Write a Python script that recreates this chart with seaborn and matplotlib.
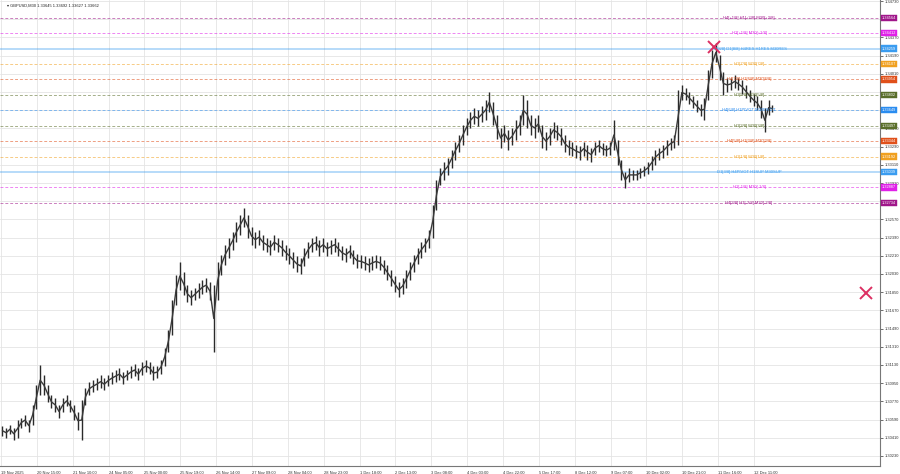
import numpy as np
import matplotlib
matplotlib.use("Agg")
import matplotlib.pyplot as plt
import seaborn as sns

sns.set_theme(style="white")
plt.rcParams['font.family'] = ['Liberation Sans', 'DejaVu Sans']

# --- data -----------------------------------------------------------------
header = "\u25be GBPUSD,M30 1.33645 1.33692 1.33627 1.33662"

# one value per 4 x M30 bars, pips above 1.30000
hi_pips = [53, 51, 54, 51, 59, 61, 64, 59, 73, 93,
           113, 103, 93, 83, 80, 73, 80, 83, 78, 73,
           67, 78, 90, 96, 98, 100, 103, 100, 103, 106,
           108, 110, 106, 108, 112, 114, 110, 116, 118, 116,
           112, 112, 118, 130, 148, 177, 202, 215, 205, 192,
           187, 189, 194, 197, 199, 195, 192, 215, 222, 232,
           239, 245, 254, 261, 268, 261, 249, 245, 247, 242,
           239, 237, 242, 239, 237, 232, 229, 225, 221, 219,
           229, 235, 239, 241, 237, 239, 235, 237, 239, 235,
           231, 229, 232, 227, 223, 222, 221, 219, 221, 222,
           221, 217, 212, 207, 201, 195, 199, 207, 215, 222,
           229, 235, 239, 247, 271, 296, 308, 314, 318, 326,
           334, 340, 350, 357, 363, 367, 365, 369, 375, 383,
           373, 360, 347, 350, 345, 347, 355, 360, 380, 375,
           360, 357, 360, 350, 343, 347, 353, 350, 347, 340,
           336, 334, 331, 330, 334, 331, 328, 334, 336, 333,
           331, 334, 355, 336, 316, 304, 308, 306, 306, 308,
           310, 314, 320, 326, 328, 331, 336, 338, 340, 385,
           390, 387, 383, 379, 375, 371, 377, 405, 425, 431,
           420, 403, 397, 397, 400, 397, 395, 390, 385, 381,
           379, 375, 367, 375, 370]
lo_pips = [43, 41, 45, 39, 41, 51, 53, 47, 54, 69,
           83, 83, 76, 70, 67, 61, 67, 72, 67, 59,
           49, 39, 73, 83, 86, 88, 90, 88, 92, 94,
           96, 98, 94, 98, 100, 102, 98, 103, 106, 104,
           98, 100, 104, 112, 126, 143, 172, 187, 182, 175,
           172, 177, 179, 183, 185, 177, 126, 177, 202, 212,
           219, 227, 235, 242, 249, 239, 232, 229, 232, 227,
           225, 222, 227, 225, 221, 217, 213, 209, 205, 203,
           211, 219, 225, 227, 221, 225, 221, 223, 225, 221,
           217, 215, 219, 213, 209, 209, 207, 205, 207, 209,
           207, 203, 197, 191, 185, 180, 183, 189, 197, 205,
           213, 219, 225, 229, 239, 266, 291, 296, 301, 308,
           316, 324, 331, 340, 347, 351, 349, 353, 355, 363,
           350, 337, 328, 334, 326, 331, 336, 340, 350, 347,
           340, 338, 343, 328, 326, 331, 338, 336, 331, 324,
           321, 320, 318, 316, 320, 316, 314, 321, 324, 321,
           320, 321, 326, 311, 296, 288, 294, 296, 296, 298,
           300, 302, 306, 311, 316, 318, 321, 326, 328, 331,
           375, 375, 371, 367, 363, 359, 355, 375, 397, 413,
           395, 380, 383, 385, 387, 385, 381, 377, 373, 369,
           365, 357, 343, 360, 363]
bars_per_group = 4

time_labels = ["19 Nov 2025", "20 Nov 15:00", "21 Nov 10:00", "24 Nov 05:00", "25 Nov 00:00",
               "25 Nov 19:00", "26 Nov 14:00", "27 Nov 09:00", "28 Nov 04:00", "28 Nov 23:00",
               "1 Dec 18:00", "2 Dec 13:00", "3 Dec 08:00", "4 Dec 03:00", "4 Dec 22:00",
               "5 Dec 17:00", "8 Dec 12:00", "9 Dec 07:00", "10 Dec 02:00", "10 Dec 21:00",
               "11 Dec 16:00", "12 Dec 11:00"]
bars_per_label = 38

price_ticks = [1.30230, 1.30410, 1.30590, 1.30770, 1.30950, 1.31130, 1.31310, 1.31490, 1.31670,
               1.31850, 1.32030, 1.32210, 1.32390, 1.32570, 1.32750, 1.32930, 1.33110, 1.33290,
               1.33470, 1.33650, 1.33830, 1.34010, 1.34190, 1.34370, 1.34550, 1.34730]
hidden_ticks = [1.32750, 1.33650, 1.33830, 1.34550]   # covered by level boxes

level_prices = [1.34564, 1.34412, 1.34259, 1.34107, 1.33954, 1.33802, 1.33649,
                1.33497, 1.33344, 1.33192, 1.33039, 1.32887, 1.32734]
level_names = ["H4[+1/8] H1[+2/8] M30[+2/8]", "H1[+1/8] M30[+1/8]",
               "H4[8/8] D1[8/8] H4RES H1RES M30RES", "H1[7/8] M30[7/8]",
               "H4[7/8] H1[6/8] M30[6/8]", "H1[5/8] M30[5/8]", "H4[6/8] H1PIVOT M30PIVOT",
               "H1[3/8] M30[3/8]", "H4[5/8] H1[2/8] M30[2/8]", "H1[1/8] M30[1/8]",
               "D1[3/8] H4PIVOT H1SUP M30SUP", "H1[-1/8] M30[-1/8]", "H4[3/8] H1[-2/8] M30[-2/8]"]
level_colors = ["#a0168a", "#e020e8", "#3a9cf0", "#f0a020", "#e0501a", "#5a6e2a", "#2a8cf0",
                "#5a6e2a", "#e0501a", "#f0a020", "#3a9cf0", "#e020e8", "#a0168a"]
level_solid = [False, False, True, False, False, False, False,
               False, False, False, True, False, False]
label_bar = 792.7

cross_bars = [755.6, 916.7]
cross_prices = [1.34275, 1.31842]

# --- figure ---------------------------------------------------------------
fig = plt.figure(figsize=(9, 4.74), dpi=100)
ax = fig.add_axes([0, 8 / 474, 880 / 900, 466 / 474])

ax.set_xlim(-1.06, 931.5)
ax.set_ylim(1.30131, 1.34740)

# grid
for k in range(len(time_labels)):
    ax.axvline(k * bars_per_label, color="#e4e4e4", lw=0.6, zorder=0)
for t in price_ticks:
    ax.axhline(t, color="#e4e4e4", lw=0.6, zorder=0)

# levels
for p, name, c, solid in zip(level_prices, level_names, level_colors, level_solid):
    if solid:
        ax.axhline(p, color=c, lw=1.3, alpha=0.4, zorder=1)
    else:
        ax.axhline(p, color=c, lw=0.7, alpha=0.55, dashes=(3, 2), zorder=1)
    ax.text(label_bar, p, name, color=c, fontsize=3.0, ha="center", va="center", zorder=4)
    ax.text(1.002, p, f"{p:.5f}", transform=ax.get_yaxis_transform(), color="white",
            fontsize=2.8, ha="left", va="center", zorder=6, clip_on=False,
            bbox=dict(boxstyle="square,pad=0.3", fc=c, ec=c, lw=0.3))

# price bars (high-low ranges)
hi = 1.3 + np.array(hi_pips) / 10000
lo = 1.3 + np.array(lo_pips) / 10000
xs = np.arange(len(hi)) * bars_per_group + 1.5
ax.vlines(xs, lo, hi, color="#2a2a2a", lw=1.0, zorder=3)
sns.lineplot(x=xs, y=(hi + lo) / 2, ax=ax, color="#3a3a3a", lw=1.0, zorder=3)

ax.plot(cross_bars, cross_prices, linestyle="none", marker="x", markersize=8.5,
        mew=1.4, color="#dc2f62", zorder=5)

ax.text(0.008, 0.993, header, transform=ax.transAxes, fontsize=2.9, color="#222222",
        ha="left", va="top")

# axes
ax.yaxis.tick_right()
ax.set_yticks(price_ticks)
ax.set_yticklabels(["" if t in hidden_ticks else f"{t:.5f}" for t in price_ticks])
ax.set_xticks([k * bars_per_label for k in range(len(time_labels))])
ax.set_xticklabels(time_labels, ha="left")
ax.tick_params(axis="both", labelsize=2.9, colors="#333333", length=2, width=0.5, pad=1.5)
ax.tick_params(axis="y", right=True, left=False)
for s in ["top", "left"]:
    ax.spines[s].set_visible(False)
for s in ["right", "bottom"]:
    ax.spines[s].set_color("#777777")
    ax.spines[s].set_linewidth(0.8)

fig.savefig("out.png", dpi=100)
